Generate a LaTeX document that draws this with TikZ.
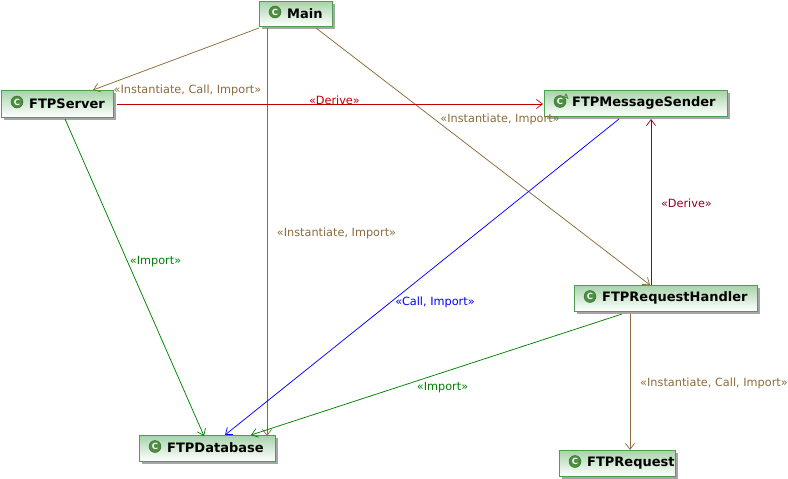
\documentclass[tikz,border=0pt]{standalone}
\usepackage{fontspec}
\setmainfont{DejaVu Sans}
\usetikzlibrary{arrows.meta,calc}
\definecolor{boxline}{HTML}{4C9F50}
\definecolor{boxtop}{HTML}{A6D3A8}
\definecolor{brownl}{HTML}{8C6A3A}
\definecolor{redl}{HTML}{C00000}
\definecolor{darkred}{HTML}{900020}
\definecolor{greenl}{HTML}{008000}
\definecolor{iconc}{HTML}{4C8F40}
\tikzset{
  x=1pt,y=-1pt,
  cbox/.style={inner sep=0pt,outer sep=0pt,anchor=north west},
  conn/.style={line width=0.75pt,-{Straight Barb[length=6pt,width=9pt,line width=0.7pt]}},
  lab/.style={inner sep=0pt,font=\fontsize{11.3}{13}\selectfont},
  icon/.style={circle,fill=iconc,draw=iconc!70!black,line width=.4pt,minimum size=12pt,inner sep=0pt,text=white,font=\fontsize{8.5}{9}\selectfont\bfseries}
}
\newcommand{\classbox}[6]{% name x y w h text
  \fill[black!35] (#2+3,#3+3) rectangle (#2+#4+3,#3+#5+3);
  \node[cbox,minimum width=#4pt,minimum height=#5pt,draw=boxline,line width=1pt,top color=boxtop,bottom color=white] (#1) at (#2,#3) {};
  \node[icon] (#1icon) at (#2+16,#3+#5/2-1.5) {C};
  \node[inner sep=0pt,anchor=west,font=\fontsize{13}{15}\selectfont\bfseries] (#1text) at (#2+28,#3+#5/2) {#6};
}
\begin{document}
\begin{tikzpicture}
\useasboundingbox (0,0) rectangle (788,479);
\classbox{main}{259}{1}{73}{25}{Main}
\classbox{server}{1}{90}{112}{27}{FTPServer}
\classbox{sender}{544}{90}{183}{26}{FTPMessageSender}
\classbox{handler}{574}{285}{183}{26}{FTPRequestHandler}
\classbox{db}{139}{435}{136}{26}{FTPDatabase}
\classbox{req}{559}{450}{116}{26}{FTPRequest}
\node[inner sep=0pt,text=iconc,font=\fontsize{7}{8}\selectfont\bfseries] (senderA) at (566,97) {A};

\draw[conn,brownl] ([yshift=-2pt]main.south west) -- ([xshift=92pt]server.north west);
\draw[conn,brownl] ([xshift=8pt,yshift=-2pt]main.south west) -- ([xshift=128pt,yshift=-1pt]db.north west);
\draw[conn,brownl] ([xshift=57pt,yshift=-2pt]main.south west) -- ([xshift=76pt]handler.north west);
\draw[conn,redl] ([xshift=4pt,yshift=-14pt]server.north east) -- ([xshift=-1pt,yshift=-14pt]sender.north west);
\draw[conn,greenl] ([xshift=64pt,yshift=-2pt]server.south west) -- ([xshift=65pt,yshift=-1pt]db.north west);
\draw[conn,blue] ([xshift=75pt,yshift=-3pt]sender.south west) -- ([xshift=86pt]db.north west);
\draw[conn,darkred] ([xshift=77pt]handler.north west) -- ([xshift=107pt,yshift=-3pt]sender.south west);
\draw[conn,greenl] ([xshift=48pt,yshift=-3pt]handler.south west) -- ([xshift=112pt]db.north west);
\draw[conn,brownl] ([xshift=56pt,yshift=-3pt]handler.south west) -- ([xshift=71pt]req.north west);

\node[lab,text=brownl] (l1) at (187.5,90) {«Instantiate, Call, Import»};
\node[lab,text=redl] (l2) at (334.5,100) {«Derive»};
\node[lab,text=brownl] (l3) at (500,119) {«Instantiate, Import»};
\node[lab,text=darkred] (l4) at (686.5,203) {«Derive»};
\node[lab,text=brownl] (l5) at (336.5,233) {«Instantiate, Import»};
\node[lab,text=greenl] (l6) at (155.5,262) {«Import»};
\node[lab,text=blue] (l7) at (435,302) {«Call, Import»};
\node[lab,text=greenl] (l8) at (442.5,388) {«Import»};
\node[lab,text=brownl] (l9) at (714,383) {«Instantiate, Call, Import»};
\end{tikzpicture}
\end{document}
